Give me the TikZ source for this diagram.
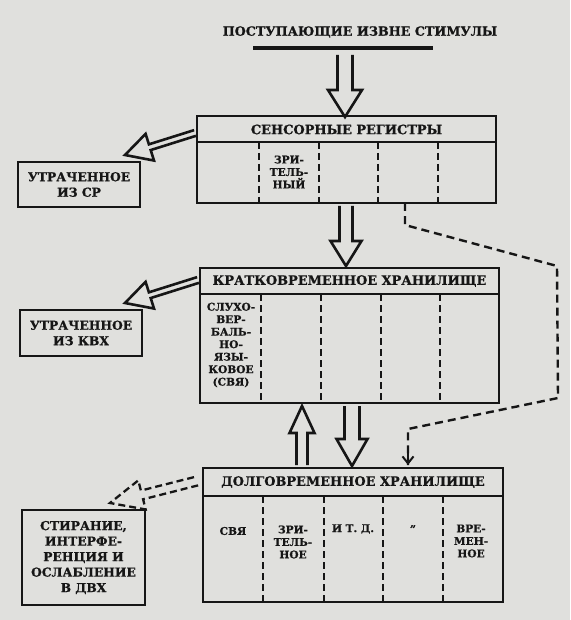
\documentclass[tikz,border=0pt]{standalone}
\usepackage{fontspec}
\setmainfont{DejaVu Serif}[BoldFeatures={FakeBold=0.8}]
\usetikzlibrary{calc,arrows.meta}
\definecolor{paper}{RGB}{224,224,221}
\definecolor{ink}{RGB}{22,22,22}
% [style] start, tip, shaft half width, head half width, head length
\newcommand\hollowarrow[6][]{%
  \coordinate (hbase) at ($(#3)!#6!(#2)$);
  \draw[harrow,#1] ($(#2)!#4!90:(#3)$) -- ($(hbase)!#4!90:(#3)$) -- ($(hbase)!#5!90:(#3)$) -- (#3)
    -- ($(hbase)!#5!-90:(#3)$) -- ($(hbase)!#4!-90:(#3)$) -- ($(#2)!#4!-90:(#3)$);
}
\tikzset{
  box/.style={draw=ink, line width=2.6pt, inner sep=0pt, outer sep=0pt, anchor=north west},
  hdr/.style={font=\bfseries\fontsize{12.9}{14}\selectfont, text=ink, inner sep=0pt},
  colt/.style={font=\bfseries\fontsize{10.6}{12.5}\selectfont, text=ink, align=center, inner sep=0pt},
  lost/.style={font=\bfseries\fontsize{12.3}{15.5}\selectfont, text=ink, align=center, inner sep=0pt},
  divider/.style={draw=ink, line width=2.2pt, dash pattern=on 7pt off 4pt},
  sepline/.style={draw=ink, line width=2.4pt},
  harrow/.style={draw=ink, line width=2.6pt, line join=miter, miter limit=20},
  dashconn/.style={draw=ink, line width=2.4pt, dash pattern=on 8pt off 5pt},
}
\begin{document}
\begin{tikzpicture}[x=1pt,y=-1pt]
\fill[paper] (0,0) rectangle (570,620);
% title
\node[font=\bfseries\fontsize{12.7}{14}\selectfont, text=ink, inner sep=0pt] (stim) at (360,32) {ПОСТУПАЮЩИЕ ИЗВНЕ СТИМУЛЫ};
\draw[ink, line width=3.6pt] (253,48) coordinate (barl) -- (433,48) coordinate (barr);

% sensory registers
\node[box, minimum width=299, minimum height=87] (sr) at (197,116) {};
\draw[sepline] (197,142) -- (496,142);
\node[hdr] (srh) at (346.5,129.5) {СЕНСОРНЫЕ РЕГИСТРЫ};
\foreach \x in {259,319,378,438} \draw[divider] (\x,142) -- (\x,203);
\node[colt] (srv) at (289,172) {ЗРИ-\\ТЕЛЬ-\\НЫЙ};

% short-term store
\node[box, minimum width=299, minimum height=135] (stm) at (200,268) {};
\draw[sepline] (200,294) -- (499,294);
\node[hdr] (stmh) at (349.5,281) {КРАТКОВРЕМЕННОЕ ХРАНИЛИЩЕ};
\foreach \x in {261,321,381,440} \draw[divider] (\x,294) -- (\x,403);
\node[colt] (stmv) at (231,345) {СЛУХО-\\ВЕР-\\БАЛЬ-\\НО-\\ЯЗЫ-\\КОВОЕ\\(СВЯ)};

% long-term store
\node[box, minimum width=300, minimum height=134] (ltm) at (203,468) {};
\draw[sepline] (203,496) -- (503,496);
\node[hdr] (ltmh) at (353,482) {ДОЛГОВРЕМЕННОЕ ХРАНИЛИЩЕ};
\foreach \x in {263,324,383,443} \draw[divider] (\x,496) -- (\x,602);
\node[colt] (c1) at (233,531) {СВЯ};
\node[colt] (c2) at (293,542) {ЗРИ-\\ТЕЛЬ-\\НОЕ};
\node[colt] (c3) at (353,529) {И Т. Д.};
\node[colt] (c4) at (413,529) {"};
\node[colt] (c5) at (471,541) {ВРЕ-\\МЕН-\\НОЕ};

% lost boxes
\node[box, minimum width=122, minimum height=45] (lsr) at (18,162) {};
\node[lost] at (lsr.center) {УТРАЧЕННОЕ\\ИЗ СР};
\node[box, minimum width=122, minimum height=46] (lstm) at (20,310) {};
\node[lost] at (lstm.center) {УТРАЧЕННОЕ\\ИЗ КВХ};
\node[box, minimum width=123, minimum height=95] (forg) at (22,510) {};
\node[lost] at (forg.center) {СТИРАНИЕ,\\ИНТЕРФЕ-\\РЕНЦИЯ И\\ОСЛАБЛЕНИЕ\\В ДВХ};

% main hollow arrows
\coordinate (a1s) at (345,55);  \coordinate (a1t) at (345,117);
\hollowarrow{a1s}{a1t}{7.5pt}{17pt}{27pt}
\coordinate (a2s) at (346,206); \coordinate (a2t) at (346,266);
\hollowarrow{a2s}{a2t}{6.5pt}{15.5pt}{25pt}
\coordinate (a3s) at (302,465); \coordinate (a3t) at (302,406);
\hollowarrow{a3s}{a3t}{5.5pt}{12.5pt}{27pt}
\coordinate (a4s) at (352,406); \coordinate (a4t) at (352,466);
\hollowarrow{a4s}{a4t}{7.5pt}{15.5pt}{27pt}

% loss arrows
\coordinate (l1s) at (195,133); \coordinate (l1t) at (125,155);
\hollowarrow{l1s}{l1t}{3pt}{14pt}{26pt}
\coordinate (l2s) at (198,280); \coordinate (l2t) at (125,303);
\hollowarrow{l2s}{l2t}{3pt}{14pt}{26pt}
\coordinate (l3s) at (197,481); \coordinate (l3t) at (110,503);
\hollowarrow[dash pattern=on 7pt off 4pt, line width=2.3pt]{l3s}{l3t}{4.5pt}{15pt}{33pt}

% dashed route from sensory registers to long-term store
\coordinate (d0) at (405,203);
\coordinate (d1) at (405,225);
\coordinate (d2) at (557,266);
\coordinate (d3) at (558,398);
\coordinate (d4) at (408,429);
\coordinate (d5) at (408,465);
\draw[dashconn] (d0) -- (d1) -- (d2) -- (d3) -- (d4) -- (d5);
\draw[ink, line width=2pt, -{Straight Barb[length=7pt,width=11pt]}] (408,452) -- (d5);
\end{tikzpicture}
\end{document}
